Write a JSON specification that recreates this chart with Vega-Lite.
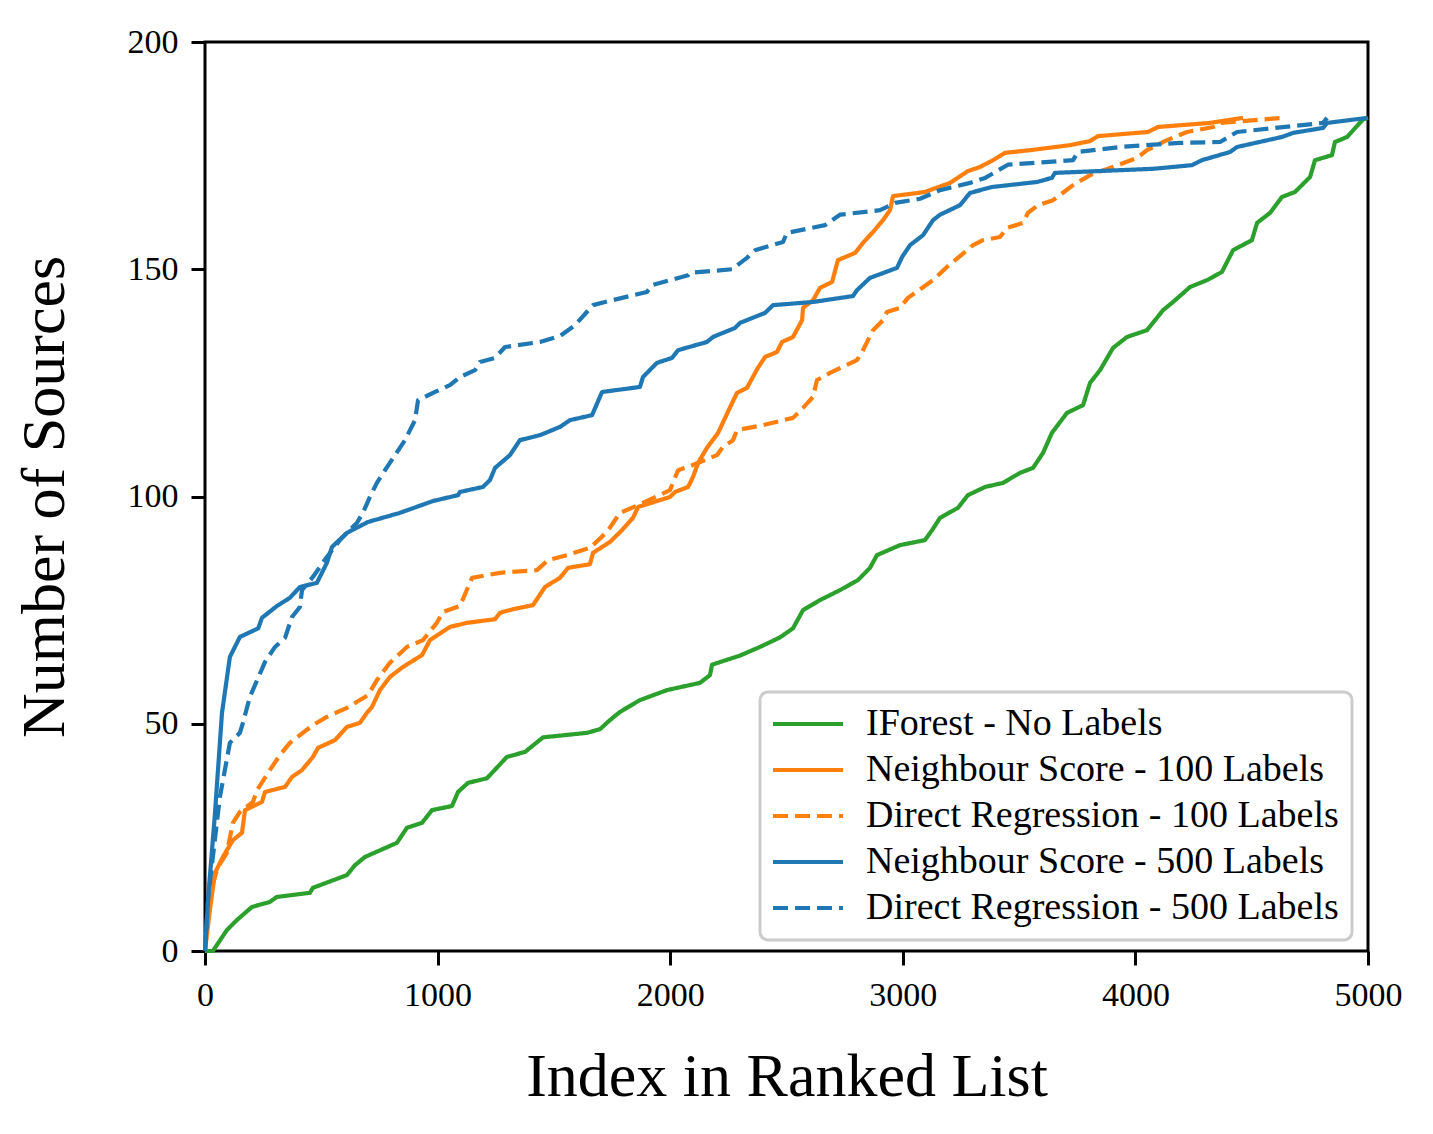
{
  "$schema": "https://vega.github.io/schema/vega-lite/v6.json",
  "width": 1163,
  "height": 909,
  "autosize": "none",
  "padding": {"left": 205, "top": 42, "right": 65, "bottom": 183},
  "background": "white",
  "config": {
    "font": "Liberation Serif",
    "view": {"stroke": "black", "strokeWidth": 3},
    "axis": {
      "grid": false,
      "domain": false,
      "tickColor": "black",
      "tickWidth": 3,
      "tickSize": 14,
      "labelFont": "Liberation Serif",
      "labelFontSize": 34,
      "labelColor": "black",
      "labelPadding": 13,
      "labelFlush": false,
      "labelOverlap": false,
      "titleFont": "Liberation Serif",
      "titleFontSize": 62,
      "titleFontWeight": "normal",
      "titleColor": "black"
    },
    "legend": {
      "orient": "none",
      "legendX": 555,
      "legendY": 650,
      "title": null,
      "symbolType": "M-3.5,0H3.5",
      "symbolSize": 400,
      "symbolStrokeWidth": 4.2,
      "symbolOffset": 16,
      "labelFont": "Liberation Serif",
      "labelFontSize": 38,
      "labelColor": "black",
      "labelOffset": 39,
      "labelLimit": 0,
      "rowPadding": 8,
      "padding": 13,
      "fillColor": "rgba(255,255,255,0.8)",
      "strokeColor": "#cccccc",
      "strokeWidth": 3,
      "cornerRadius": 8
    }
  },
  "data": {
    "values": [
      {"method": "IForest - No Labels", "index": 0, "sources": 0},
      {"method": "IForest - No Labels", "index": 34, "sources": 0},
      {"method": "IForest - No Labels", "index": 94, "sources": 4.6},
      {"method": "IForest - No Labels", "index": 137, "sources": 6.8},
      {"method": "IForest - No Labels", "index": 202, "sources": 9.7},
      {"method": "IForest - No Labels", "index": 279, "sources": 10.8},
      {"method": "IForest - No Labels", "index": 309, "sources": 11.9},
      {"method": "IForest - No Labels", "index": 451, "sources": 12.8},
      {"method": "IForest - No Labels", "index": 464, "sources": 13.9},
      {"method": "IForest - No Labels", "index": 610, "sources": 16.7},
      {"method": "IForest - No Labels", "index": 645, "sources": 18.9},
      {"method": "IForest - No Labels", "index": 688, "sources": 20.7},
      {"method": "IForest - No Labels", "index": 825, "sources": 23.8},
      {"method": "IForest - No Labels", "index": 868, "sources": 27.1},
      {"method": "IForest - No Labels", "index": 933, "sources": 28.2},
      {"method": "IForest - No Labels", "index": 976, "sources": 31},
      {"method": "IForest - No Labels", "index": 1062, "sources": 31.9},
      {"method": "IForest - No Labels", "index": 1088, "sources": 35},
      {"method": "IForest - No Labels", "index": 1131, "sources": 37},
      {"method": "IForest - No Labels", "index": 1212, "sources": 38},
      {"method": "IForest - No Labels", "index": 1298, "sources": 42.7},
      {"method": "IForest - No Labels", "index": 1376, "sources": 43.8},
      {"method": "IForest - No Labels", "index": 1453, "sources": 47},
      {"method": "IForest - No Labels", "index": 1642, "sources": 48},
      {"method": "IForest - No Labels", "index": 1698, "sources": 48.8},
      {"method": "IForest - No Labels", "index": 1741, "sources": 50.8},
      {"method": "IForest - No Labels", "index": 1784, "sources": 52.6},
      {"method": "IForest - No Labels", "index": 1870, "sources": 55.2},
      {"method": "IForest - No Labels", "index": 1986, "sources": 57.4},
      {"method": "IForest - No Labels", "index": 2128, "sources": 59},
      {"method": "IForest - No Labels", "index": 2171, "sources": 60.7},
      {"method": "IForest - No Labels", "index": 2180, "sources": 63},
      {"method": "IForest - No Labels", "index": 2300, "sources": 65},
      {"method": "IForest - No Labels", "index": 2386, "sources": 66.9},
      {"method": "IForest - No Labels", "index": 2472, "sources": 69},
      {"method": "IForest - No Labels", "index": 2528, "sources": 71},
      {"method": "IForest - No Labels", "index": 2571, "sources": 75},
      {"method": "IForest - No Labels", "index": 2644, "sources": 77.2},
      {"method": "IForest - No Labels", "index": 2730, "sources": 79.4},
      {"method": "IForest - No Labels", "index": 2807, "sources": 81.6},
      {"method": "IForest - No Labels", "index": 2859, "sources": 84.3},
      {"method": "IForest - No Labels", "index": 2889, "sources": 87.1},
      {"method": "IForest - No Labels", "index": 2988, "sources": 89.3},
      {"method": "IForest - No Labels", "index": 3095, "sources": 90.4},
      {"method": "IForest - No Labels", "index": 3126, "sources": 92.6},
      {"method": "IForest - No Labels", "index": 3160, "sources": 95.3},
      {"method": "IForest - No Labels", "index": 3237, "sources": 97.5},
      {"method": "IForest - No Labels", "index": 3280, "sources": 100.3},
      {"method": "IForest - No Labels", "index": 3354, "sources": 102.1},
      {"method": "IForest - No Labels", "index": 3431, "sources": 103},
      {"method": "IForest - No Labels", "index": 3504, "sources": 105.2},
      {"method": "IForest - No Labels", "index": 3560, "sources": 106.3},
      {"method": "IForest - No Labels", "index": 3603, "sources": 109.6},
      {"method": "IForest - No Labels", "index": 3641, "sources": 114},
      {"method": "IForest - No Labels", "index": 3706, "sources": 118.4},
      {"method": "IForest - No Labels", "index": 3775, "sources": 120.1},
      {"method": "IForest - No Labels", "index": 3805, "sources": 125},
      {"method": "IForest - No Labels", "index": 3848, "sources": 127.8},
      {"method": "IForest - No Labels", "index": 3904, "sources": 132.7},
      {"method": "IForest - No Labels", "index": 3964, "sources": 135.1},
      {"method": "IForest - No Labels", "index": 4050, "sources": 136.6},
      {"method": "IForest - No Labels", "index": 4119, "sources": 141},
      {"method": "IForest - No Labels", "index": 4162, "sources": 142.8},
      {"method": "IForest - No Labels", "index": 4235, "sources": 146.1},
      {"method": "IForest - No Labels", "index": 4308, "sources": 147.6},
      {"method": "IForest - No Labels", "index": 4372, "sources": 149.4},
      {"method": "IForest - No Labels", "index": 4420, "sources": 154.2},
      {"method": "IForest - No Labels", "index": 4501, "sources": 156.4},
      {"method": "IForest - No Labels", "index": 4523, "sources": 160.2},
      {"method": "IForest - No Labels", "index": 4579, "sources": 162.4},
      {"method": "IForest - No Labels", "index": 4630, "sources": 165.9},
      {"method": "IForest - No Labels", "index": 4686, "sources": 167},
      {"method": "IForest - No Labels", "index": 4751, "sources": 170.3},
      {"method": "IForest - No Labels", "index": 4772, "sources": 174},
      {"method": "IForest - No Labels", "index": 4845, "sources": 175.1},
      {"method": "IForest - No Labels", "index": 4858, "sources": 178},
      {"method": "IForest - No Labels", "index": 4910, "sources": 179.1},
      {"method": "IForest - No Labels", "index": 4979, "sources": 183},
      {"method": "IForest - No Labels", "index": 5000, "sources": 183.3},

      {"method": "Neighbour Score - 100 Labels", "index": 0, "sources": 0},
      {"method": "Neighbour Score - 100 Labels", "index": 21, "sources": 9},
      {"method": "Neighbour Score - 100 Labels", "index": 43, "sources": 17.2},
      {"method": "Neighbour Score - 100 Labels", "index": 77, "sources": 20.7},
      {"method": "Neighbour Score - 100 Labels", "index": 120, "sources": 24.4},
      {"method": "Neighbour Score - 100 Labels", "index": 159, "sources": 26},
      {"method": "Neighbour Score - 100 Labels", "index": 172, "sources": 31},
      {"method": "Neighbour Score - 100 Labels", "index": 245, "sources": 32.8},
      {"method": "Neighbour Score - 100 Labels", "index": 258, "sources": 35},
      {"method": "Neighbour Score - 100 Labels", "index": 344, "sources": 36.1},
      {"method": "Neighbour Score - 100 Labels", "index": 374, "sources": 38.3},
      {"method": "Neighbour Score - 100 Labels", "index": 417, "sources": 39.8},
      {"method": "Neighbour Score - 100 Labels", "index": 464, "sources": 42.7},
      {"method": "Neighbour Score - 100 Labels", "index": 486, "sources": 44.7},
      {"method": "Neighbour Score - 100 Labels", "index": 559, "sources": 46.4},
      {"method": "Neighbour Score - 100 Labels", "index": 610, "sources": 49.3},
      {"method": "Neighbour Score - 100 Labels", "index": 666, "sources": 50.2},
      {"method": "Neighbour Score - 100 Labels", "index": 696, "sources": 52.4},
      {"method": "Neighbour Score - 100 Labels", "index": 718, "sources": 53.7},
      {"method": "Neighbour Score - 100 Labels", "index": 752, "sources": 57.4},
      {"method": "Neighbour Score - 100 Labels", "index": 795, "sources": 60.3},
      {"method": "Neighbour Score - 100 Labels", "index": 851, "sources": 62.5},
      {"method": "Neighbour Score - 100 Labels", "index": 933, "sources": 65.1},
      {"method": "Neighbour Score - 100 Labels", "index": 967, "sources": 68.4},
      {"method": "Neighbour Score - 100 Labels", "index": 1053, "sources": 71.3},
      {"method": "Neighbour Score - 100 Labels", "index": 1126, "sources": 72.2},
      {"method": "Neighbour Score - 100 Labels", "index": 1247, "sources": 73},
      {"method": "Neighbour Score - 100 Labels", "index": 1268, "sources": 74.4},
      {"method": "Neighbour Score - 100 Labels", "index": 1324, "sources": 75.2},
      {"method": "Neighbour Score - 100 Labels", "index": 1410, "sources": 76.1},
      {"method": "Neighbour Score - 100 Labels", "index": 1462, "sources": 80.1},
      {"method": "Neighbour Score - 100 Labels", "index": 1526, "sources": 82.1},
      {"method": "Neighbour Score - 100 Labels", "index": 1561, "sources": 84.3},
      {"method": "Neighbour Score - 100 Labels", "index": 1655, "sources": 85.1},
      {"method": "Neighbour Score - 100 Labels", "index": 1668, "sources": 87.6},
      {"method": "Neighbour Score - 100 Labels", "index": 1741, "sources": 90},
      {"method": "Neighbour Score - 100 Labels", "index": 1793, "sources": 92.6},
      {"method": "Neighbour Score - 100 Labels", "index": 1840, "sources": 95.3},
      {"method": "Neighbour Score - 100 Labels", "index": 1862, "sources": 97.7},
      {"method": "Neighbour Score - 100 Labels", "index": 1999, "sources": 99.9},
      {"method": "Neighbour Score - 100 Labels", "index": 2021, "sources": 101},
      {"method": "Neighbour Score - 100 Labels", "index": 2077, "sources": 102.1},
      {"method": "Neighbour Score - 100 Labels", "index": 2098, "sources": 104.3},
      {"method": "Neighbour Score - 100 Labels", "index": 2120, "sources": 107.4},
      {"method": "Neighbour Score - 100 Labels", "index": 2158, "sources": 110.7},
      {"method": "Neighbour Score - 100 Labels", "index": 2206, "sources": 114},
      {"method": "Neighbour Score - 100 Labels", "index": 2236, "sources": 117.3},
      {"method": "Neighbour Score - 100 Labels", "index": 2287, "sources": 122.8},
      {"method": "Neighbour Score - 100 Labels", "index": 2330, "sources": 123.9},
      {"method": "Neighbour Score - 100 Labels", "index": 2377, "sources": 128.3},
      {"method": "Neighbour Score - 100 Labels", "index": 2408, "sources": 130.7},
      {"method": "Neighbour Score - 100 Labels", "index": 2459, "sources": 131.8},
      {"method": "Neighbour Score - 100 Labels", "index": 2481, "sources": 134},
      {"method": "Neighbour Score - 100 Labels", "index": 2528, "sources": 135.1},
      {"method": "Neighbour Score - 100 Labels", "index": 2567, "sources": 138.8},
      {"method": "Neighbour Score - 100 Labels", "index": 2571, "sources": 141.5},
      {"method": "Neighbour Score - 100 Labels", "index": 2614, "sources": 143.2},
      {"method": "Neighbour Score - 100 Labels", "index": 2644, "sources": 145.9},
      {"method": "Neighbour Score - 100 Labels", "index": 2696, "sources": 147.2},
      {"method": "Neighbour Score - 100 Labels", "index": 2721, "sources": 152},
      {"method": "Neighbour Score - 100 Labels", "index": 2795, "sources": 153.6},
      {"method": "Neighbour Score - 100 Labels", "index": 2829, "sources": 155.8},
      {"method": "Neighbour Score - 100 Labels", "index": 2872, "sources": 158.2},
      {"method": "Neighbour Score - 100 Labels", "index": 2915, "sources": 160.8},
      {"method": "Neighbour Score - 100 Labels", "index": 2945, "sources": 163},
      {"method": "Neighbour Score - 100 Labels", "index": 2958, "sources": 166.1},
      {"method": "Neighbour Score - 100 Labels", "index": 3095, "sources": 167},
      {"method": "Neighbour Score - 100 Labels", "index": 3203, "sources": 169},
      {"method": "Neighbour Score - 100 Labels", "index": 3280, "sources": 171.6},
      {"method": "Neighbour Score - 100 Labels", "index": 3332, "sources": 172.5},
      {"method": "Neighbour Score - 100 Labels", "index": 3388, "sources": 174},
      {"method": "Neighbour Score - 100 Labels", "index": 3439, "sources": 175.6},
      {"method": "Neighbour Score - 100 Labels", "index": 3547, "sources": 176.2},
      {"method": "Neighbour Score - 100 Labels", "index": 3719, "sources": 177.3},
      {"method": "Neighbour Score - 100 Labels", "index": 3805, "sources": 178.2},
      {"method": "Neighbour Score - 100 Labels", "index": 3839, "sources": 179.3},
      {"method": "Neighbour Score - 100 Labels", "index": 4054, "sources": 180.2},
      {"method": "Neighbour Score - 100 Labels", "index": 4097, "sources": 181.3},
      {"method": "Neighbour Score - 100 Labels", "index": 4321, "sources": 182.2},
      {"method": "Neighbour Score - 100 Labels", "index": 4463, "sources": 183.3},

      {"method": "Direct Regression - 100 Labels", "index": 0, "sources": 0},
      {"method": "Direct Regression - 100 Labels", "index": 21, "sources": 12.8},
      {"method": "Direct Regression - 100 Labels", "index": 56, "sources": 18.5},
      {"method": "Direct Regression - 100 Labels", "index": 94, "sources": 21.6},
      {"method": "Direct Regression - 100 Labels", "index": 120, "sources": 28.2},
      {"method": "Direct Regression - 100 Labels", "index": 150, "sources": 30.6},
      {"method": "Direct Regression - 100 Labels", "index": 206, "sources": 32.8},
      {"method": "Direct Regression - 100 Labels", "index": 224, "sources": 35.4},
      {"method": "Direct Regression - 100 Labels", "index": 271, "sources": 39.2},
      {"method": "Direct Regression - 100 Labels", "index": 322, "sources": 43.1},
      {"method": "Direct Regression - 100 Labels", "index": 365, "sources": 45.8},
      {"method": "Direct Regression - 100 Labels", "index": 464, "sources": 49.7},
      {"method": "Direct Regression - 100 Labels", "index": 524, "sources": 51.5},
      {"method": "Direct Regression - 100 Labels", "index": 610, "sources": 53.5},
      {"method": "Direct Regression - 100 Labels", "index": 701, "sources": 56.3},
      {"method": "Direct Regression - 100 Labels", "index": 739, "sources": 59.6},
      {"method": "Direct Regression - 100 Labels", "index": 795, "sources": 63.4},
      {"method": "Direct Regression - 100 Labels", "index": 868, "sources": 66.9},
      {"method": "Direct Regression - 100 Labels", "index": 937, "sources": 68.4},
      {"method": "Direct Regression - 100 Labels", "index": 997, "sources": 72.2},
      {"method": "Direct Regression - 100 Labels", "index": 1023, "sources": 74.6},
      {"method": "Direct Regression - 100 Labels", "index": 1096, "sources": 75.9},
      {"method": "Direct Regression - 100 Labels", "index": 1148, "sources": 82.1},
      {"method": "Direct Regression - 100 Labels", "index": 1268, "sources": 83.2},
      {"method": "Direct Regression - 100 Labels", "index": 1427, "sources": 83.8},
      {"method": "Direct Regression - 100 Labels", "index": 1475, "sources": 86},
      {"method": "Direct Regression - 100 Labels", "index": 1556, "sources": 87.1},
      {"method": "Direct Regression - 100 Labels", "index": 1655, "sources": 88.7},
      {"method": "Direct Regression - 100 Labels", "index": 1728, "sources": 92.2},
      {"method": "Direct Regression - 100 Labels", "index": 1784, "sources": 96.4},
      {"method": "Direct Regression - 100 Labels", "index": 1862, "sources": 98.1},
      {"method": "Direct Regression - 100 Labels", "index": 1999, "sources": 101.4},
      {"method": "Direct Regression - 100 Labels", "index": 2034, "sources": 105.8},
      {"method": "Direct Regression - 100 Labels", "index": 2077, "sources": 106.5},
      {"method": "Direct Regression - 100 Labels", "index": 2201, "sources": 109.1},
      {"method": "Direct Regression - 100 Labels", "index": 2227, "sources": 110.9},
      {"method": "Direct Regression - 100 Labels", "index": 2270, "sources": 112.4},
      {"method": "Direct Regression - 100 Labels", "index": 2287, "sources": 114.6},
      {"method": "Direct Regression - 100 Labels", "index": 2399, "sources": 115.7},
      {"method": "Direct Regression - 100 Labels", "index": 2528, "sources": 117.3},
      {"method": "Direct Regression - 100 Labels", "index": 2571, "sources": 119.5},
      {"method": "Direct Regression - 100 Labels", "index": 2614, "sources": 121.9},
      {"method": "Direct Regression - 100 Labels", "index": 2631, "sources": 125.6},
      {"method": "Direct Regression - 100 Labels", "index": 2687, "sources": 127.2},
      {"method": "Direct Regression - 100 Labels", "index": 2803, "sources": 130},
      {"method": "Direct Regression - 100 Labels", "index": 2829, "sources": 132.2},
      {"method": "Direct Regression - 100 Labels", "index": 2872, "sources": 136.6},
      {"method": "Direct Regression - 100 Labels", "index": 2915, "sources": 138.8},
      {"method": "Direct Regression - 100 Labels", "index": 2932, "sources": 140.6},
      {"method": "Direct Regression - 100 Labels", "index": 2988, "sources": 141.5},
      {"method": "Direct Regression - 100 Labels", "index": 3022, "sources": 143.7},
      {"method": "Direct Regression - 100 Labels", "index": 3130, "sources": 147.6},
      {"method": "Direct Regression - 100 Labels", "index": 3190, "sources": 150.5},
      {"method": "Direct Regression - 100 Labels", "index": 3302, "sources": 155.3},
      {"method": "Direct Regression - 100 Labels", "index": 3345, "sources": 156.4},
      {"method": "Direct Regression - 100 Labels", "index": 3418, "sources": 157.1},
      {"method": "Direct Regression - 100 Labels", "index": 3448, "sources": 159.1},
      {"method": "Direct Regression - 100 Labels", "index": 3517, "sources": 160.2},
      {"method": "Direct Regression - 100 Labels", "index": 3538, "sources": 162.4},
      {"method": "Direct Regression - 100 Labels", "index": 3581, "sources": 164.1},
      {"method": "Direct Regression - 100 Labels", "index": 3646, "sources": 165.2},
      {"method": "Direct Regression - 100 Labels", "index": 3732, "sources": 168.5},
      {"method": "Direct Regression - 100 Labels", "index": 3805, "sources": 170.7},
      {"method": "Direct Regression - 100 Labels", "index": 3891, "sources": 172.3},
      {"method": "Direct Regression - 100 Labels", "index": 4007, "sources": 174.5},
      {"method": "Direct Regression - 100 Labels", "index": 4050, "sources": 176.2},
      {"method": "Direct Regression - 100 Labels", "index": 4136, "sources": 178.4},
      {"method": "Direct Regression - 100 Labels", "index": 4222, "sources": 180.2},
      {"method": "Direct Regression - 100 Labels", "index": 4334, "sources": 181.3},
      {"method": "Direct Regression - 100 Labels", "index": 4364, "sources": 182.2},
      {"method": "Direct Regression - 100 Labels", "index": 4630, "sources": 183.3},

      {"method": "Neighbour Score - 500 Labels", "index": 0, "sources": 0},
      {"method": "Neighbour Score - 500 Labels", "index": 14, "sources": 11.9},
      {"method": "Neighbour Score - 500 Labels", "index": 43, "sources": 30.4},
      {"method": "Neighbour Score - 500 Labels", "index": 73, "sources": 52.4},
      {"method": "Neighbour Score - 500 Labels", "index": 107, "sources": 64.7},
      {"method": "Neighbour Score - 500 Labels", "index": 150, "sources": 69.1},
      {"method": "Neighbour Score - 500 Labels", "index": 229, "sources": 71},
      {"method": "Neighbour Score - 500 Labels", "index": 245, "sources": 73.3},
      {"method": "Neighbour Score - 500 Labels", "index": 309, "sources": 75.9},
      {"method": "Neighbour Score - 500 Labels", "index": 365, "sources": 77.7},
      {"method": "Neighbour Score - 500 Labels", "index": 408, "sources": 80.1},
      {"method": "Neighbour Score - 500 Labels", "index": 481, "sources": 81},
      {"method": "Neighbour Score - 500 Labels", "index": 524, "sources": 85.4},
      {"method": "Neighbour Score - 500 Labels", "index": 546, "sources": 88.9},
      {"method": "Neighbour Score - 500 Labels", "index": 610, "sources": 92},
      {"method": "Neighbour Score - 500 Labels", "index": 701, "sources": 94.4},
      {"method": "Neighbour Score - 500 Labels", "index": 838, "sources": 96.4},
      {"method": "Neighbour Score - 500 Labels", "index": 980, "sources": 99},
      {"method": "Neighbour Score - 500 Labels", "index": 1088, "sources": 100.3},
      {"method": "Neighbour Score - 500 Labels", "index": 1096, "sources": 101},
      {"method": "Neighbour Score - 500 Labels", "index": 1195, "sources": 102.1},
      {"method": "Neighbour Score - 500 Labels", "index": 1225, "sources": 103.6},
      {"method": "Neighbour Score - 500 Labels", "index": 1247, "sources": 106.3},
      {"method": "Neighbour Score - 500 Labels", "index": 1311, "sources": 109.1},
      {"method": "Neighbour Score - 500 Labels", "index": 1354, "sources": 112.4},
      {"method": "Neighbour Score - 500 Labels", "index": 1440, "sources": 113.5},
      {"method": "Neighbour Score - 500 Labels", "index": 1526, "sources": 115.3},
      {"method": "Neighbour Score - 500 Labels", "index": 1569, "sources": 116.8},
      {"method": "Neighbour Score - 500 Labels", "index": 1664, "sources": 117.9},
      {"method": "Neighbour Score - 500 Labels", "index": 1707, "sources": 123},
      {"method": "Neighbour Score - 500 Labels", "index": 1870, "sources": 124.1},
      {"method": "Neighbour Score - 500 Labels", "index": 1883, "sources": 126.3},
      {"method": "Neighbour Score - 500 Labels", "index": 1943, "sources": 129.4},
      {"method": "Neighbour Score - 500 Labels", "index": 2008, "sources": 130.5},
      {"method": "Neighbour Score - 500 Labels", "index": 2034, "sources": 132.2},
      {"method": "Neighbour Score - 500 Labels", "index": 2158, "sources": 134},
      {"method": "Neighbour Score - 500 Labels", "index": 2184, "sources": 135.1},
      {"method": "Neighbour Score - 500 Labels", "index": 2279, "sources": 137.1},
      {"method": "Neighbour Score - 500 Labels", "index": 2300, "sources": 138.2},
      {"method": "Neighbour Score - 500 Labels", "index": 2408, "sources": 140.4},
      {"method": "Neighbour Score - 500 Labels", "index": 2442, "sources": 142.1},
      {"method": "Neighbour Score - 500 Labels", "index": 2614, "sources": 142.8},
      {"method": "Neighbour Score - 500 Labels", "index": 2786, "sources": 144.1},
      {"method": "Neighbour Score - 500 Labels", "index": 2803, "sources": 145.4},
      {"method": "Neighbour Score - 500 Labels", "index": 2859, "sources": 148.1},
      {"method": "Neighbour Score - 500 Labels", "index": 2975, "sources": 150.3},
      {"method": "Neighbour Score - 500 Labels", "index": 2997, "sources": 152.7},
      {"method": "Neighbour Score - 500 Labels", "index": 3031, "sources": 155.3},
      {"method": "Neighbour Score - 500 Labels", "index": 3087, "sources": 157.5},
      {"method": "Neighbour Score - 500 Labels", "index": 3130, "sources": 160.8},
      {"method": "Neighbour Score - 500 Labels", "index": 3160, "sources": 162},
      {"method": "Neighbour Score - 500 Labels", "index": 3246, "sources": 164.1},
      {"method": "Neighbour Score - 500 Labels", "index": 3289, "sources": 166.8},
      {"method": "Neighbour Score - 500 Labels", "index": 3384, "sources": 168.1},
      {"method": "Neighbour Score - 500 Labels", "index": 3577, "sources": 169.2},
      {"method": "Neighbour Score - 500 Labels", "index": 3641, "sources": 170.1},
      {"method": "Neighbour Score - 500 Labels", "index": 3654, "sources": 171.2},
      {"method": "Neighbour Score - 500 Labels", "index": 4076, "sources": 172.1},
      {"method": "Neighbour Score - 500 Labels", "index": 4243, "sources": 172.9},
      {"method": "Neighbour Score - 500 Labels", "index": 4286, "sources": 174},
      {"method": "Neighbour Score - 500 Labels", "index": 4407, "sources": 175.8},
      {"method": "Neighbour Score - 500 Labels", "index": 4437, "sources": 176.9},
      {"method": "Neighbour Score - 500 Labels", "index": 4630, "sources": 179.1},
      {"method": "Neighbour Score - 500 Labels", "index": 4678, "sources": 180},
      {"method": "Neighbour Score - 500 Labels", "index": 4807, "sources": 181.1},
      {"method": "Neighbour Score - 500 Labels", "index": 4824, "sources": 182.2},
      {"method": "Neighbour Score - 500 Labels", "index": 4996, "sources": 183.3},

      {"method": "Direct Regression - 500 Labels", "index": 0, "sources": 0},
      {"method": "Direct Regression - 500 Labels", "index": 14, "sources": 12},
      {"method": "Direct Regression - 500 Labels", "index": 64, "sources": 33.9},
      {"method": "Direct Regression - 500 Labels", "index": 107, "sources": 45.8},
      {"method": "Direct Regression - 500 Labels", "index": 150, "sources": 48},
      {"method": "Direct Regression - 500 Labels", "index": 163, "sources": 50.2},
      {"method": "Direct Regression - 500 Labels", "index": 193, "sources": 55.9},
      {"method": "Direct Regression - 500 Labels", "index": 258, "sources": 63.6},
      {"method": "Direct Regression - 500 Labels", "index": 301, "sources": 66.9},
      {"method": "Direct Regression - 500 Labels", "index": 344, "sources": 68.9},
      {"method": "Direct Regression - 500 Labels", "index": 374, "sources": 73.5},
      {"method": "Direct Regression - 500 Labels", "index": 408, "sources": 75.7},
      {"method": "Direct Regression - 500 Labels", "index": 417, "sources": 79.4},
      {"method": "Direct Regression - 500 Labels", "index": 464, "sources": 82.3},
      {"method": "Direct Regression - 500 Labels", "index": 524, "sources": 86.7},
      {"method": "Direct Regression - 500 Labels", "index": 580, "sources": 90.4},
      {"method": "Direct Regression - 500 Labels", "index": 653, "sources": 94.2},
      {"method": "Direct Regression - 500 Labels", "index": 679, "sources": 96.4},
      {"method": "Direct Regression - 500 Labels", "index": 709, "sources": 99.9},
      {"method": "Direct Regression - 500 Labels", "index": 739, "sources": 103},
      {"method": "Direct Regression - 500 Labels", "index": 774, "sources": 105.8},
      {"method": "Direct Regression - 500 Labels", "index": 817, "sources": 109.1},
      {"method": "Direct Regression - 500 Labels", "index": 860, "sources": 112.4},
      {"method": "Direct Regression - 500 Labels", "index": 903, "sources": 116.8},
      {"method": "Direct Regression - 500 Labels", "index": 916, "sources": 121.2},
      {"method": "Direct Regression - 500 Labels", "index": 989, "sources": 123},
      {"method": "Direct Regression - 500 Labels", "index": 1053, "sources": 124.5},
      {"method": "Direct Regression - 500 Labels", "index": 1096, "sources": 126.3},
      {"method": "Direct Regression - 500 Labels", "index": 1161, "sources": 127.8},
      {"method": "Direct Regression - 500 Labels", "index": 1182, "sources": 129.6},
      {"method": "Direct Regression - 500 Labels", "index": 1247, "sources": 130.5},
      {"method": "Direct Regression - 500 Labels", "index": 1290, "sources": 132.9},
      {"method": "Direct Regression - 500 Labels", "index": 1440, "sources": 134},
      {"method": "Direct Regression - 500 Labels", "index": 1526, "sources": 135.3},
      {"method": "Direct Regression - 500 Labels", "index": 1591, "sources": 137.7},
      {"method": "Direct Regression - 500 Labels", "index": 1668, "sources": 142.1},
      {"method": "Direct Regression - 500 Labels", "index": 1720, "sources": 142.8},
      {"method": "Direct Regression - 500 Labels", "index": 1900, "sources": 145},
      {"method": "Direct Regression - 500 Labels", "index": 1922, "sources": 146.5},
      {"method": "Direct Regression - 500 Labels", "index": 2077, "sources": 148.7},
      {"method": "Direct Regression - 500 Labels", "index": 2085, "sources": 149.2},
      {"method": "Direct Regression - 500 Labels", "index": 2266, "sources": 150},
      {"method": "Direct Regression - 500 Labels", "index": 2330, "sources": 152.5},
      {"method": "Direct Regression - 500 Labels", "index": 2365, "sources": 154.2},
      {"method": "Direct Regression - 500 Labels", "index": 2485, "sources": 156},
      {"method": "Direct Regression - 500 Labels", "index": 2502, "sources": 158},
      {"method": "Direct Regression - 500 Labels", "index": 2666, "sources": 159.7},
      {"method": "Direct Regression - 500 Labels", "index": 2696, "sources": 160.8},
      {"method": "Direct Regression - 500 Labels", "index": 2730, "sources": 162},
      {"method": "Direct Regression - 500 Labels", "index": 2902, "sources": 163},
      {"method": "Direct Regression - 500 Labels", "index": 2967, "sources": 164.6},
      {"method": "Direct Regression - 500 Labels", "index": 3074, "sources": 165.5},
      {"method": "Direct Regression - 500 Labels", "index": 3160, "sources": 167.4},
      {"method": "Direct Regression - 500 Labels", "index": 3289, "sources": 169},
      {"method": "Direct Regression - 500 Labels", "index": 3354, "sources": 170.1},
      {"method": "Direct Regression - 500 Labels", "index": 3452, "sources": 173},
      {"method": "Direct Regression - 500 Labels", "index": 3732, "sources": 174},
      {"method": "Direct Regression - 500 Labels", "index": 3753, "sources": 175.8},
      {"method": "Direct Regression - 500 Labels", "index": 3934, "sources": 176.9},
      {"method": "Direct Regression - 500 Labels", "index": 4192, "sources": 177.8},
      {"method": "Direct Regression - 500 Labels", "index": 4364, "sources": 178},
      {"method": "Direct Regression - 500 Labels", "index": 4437, "sources": 180.2},
      {"method": "Direct Regression - 500 Labels", "index": 4807, "sources": 182.2},
      {"method": "Direct Regression - 500 Labels", "index": 4824, "sources": 183.3}
    ]
  },
  "mark": {"type": "line", "strokeWidth": 4.2, "strokeJoin": "round"},
  "encoding": {
    "x": {
      "field": "index",
      "type": "quantitative",
      "scale": {"domain": [0, 5000], "nice": false},
      "axis": {
        "title": "Index in Ranked List",
        "values": [0, 1000, 2000, 3000, 4000, 5000],
        "format": "d",
        "titleY": 144,
        "titleBaseline": "alphabetic"
      }
    },
    "y": {
      "field": "sources",
      "type": "quantitative",
      "scale": {"domain": [0, 200], "nice": false},
      "axis": {
        "title": "Number of Sources",
        "values": [0, 50, 100, 150, 200],
        "titleX": -142,
        "titleY": 454.5,
        "titleAngle": 270,
        "titleAlign": "center",
        "titleBaseline": "alphabetic"
      }
    },
    "color": {
      "field": "method",
      "type": "nominal",
      "sort": null,
      "scale": {
        "domain": ["IForest - No Labels", "Neighbour Score - 100 Labels", "Direct Regression - 100 Labels", "Neighbour Score - 500 Labels", "Direct Regression - 500 Labels"],
        "range": ["#2ca02c", "#ff7f0e", "#ff7f0e", "#1f77b4", "#1f77b4"]
      },
      "legend": {"title": null}
    },
    "strokeDash": {
      "field": "method",
      "type": "nominal",
      "sort": null,
      "scale": {
        "domain": ["IForest - No Labels", "Neighbour Score - 100 Labels", "Direct Regression - 100 Labels", "Neighbour Score - 500 Labels", "Direct Regression - 500 Labels"],
        "range": [[1, 0], [1, 0], [15, 7], [1, 0], [15, 7]]
      },
      "legend": {"title": null}
    }
  }
}
